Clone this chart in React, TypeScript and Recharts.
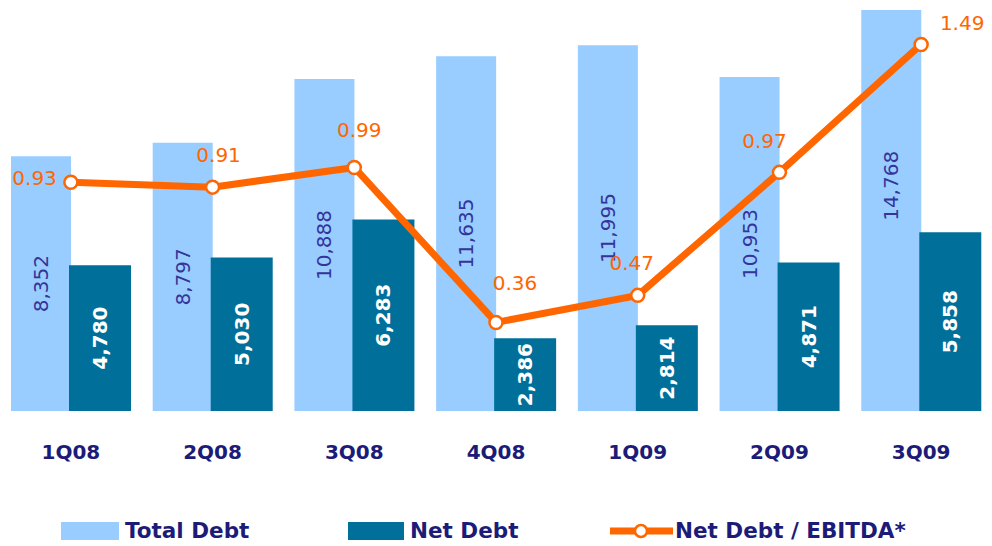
import {
  Bar,
  ComposedChart,
  LabelList,
  Legend,
  Line,
  XAxis,
  YAxis
} from "recharts";

const quarters = ["1Q08", "2Q08", "3Q08", "4Q08", "1Q09", "2Q09", "3Q09"];
const totalDebt = [8352, 8797, 10888, 11635, 11995, 10953, 14768];
const netDebt = [4780, 5030, 6283, 2386, 2814, 4871, 5858];
const netDebtToEbitda = [0.93, 0.91, 0.99, 0.36, 0.47, 0.97, 1.49];

const chartData = quarters.map((quarter, i) => ({
  quarter,
  totalDebt: totalDebt[i],
  netDebt: netDebt[i],
  ratio: netDebtToEbitda[i]
}));

// hand-tuned placement of the ratio labels around each dot
const ratioLabelOffsets: [number, number, "start" | "middle" | "end"][] = [
  [-14, -4, "end"],
  [6, -32, "middle"],
  [5, -37, "middle"],
  [19, -39, "middle"],
  [-6, -32, "middle"],
  [-15, -31, "middle"],
  [41, -21, "middle"]
];

const lightBlue = "#99CCFF";
const teal = "#00709A";
const orange = "#FF6600";
const navy = "#1C1C78";
const fontFamily = "'DejaVu Sans', Verdana, sans-serif";

const fmt = (v: number) => v.toLocaleString("en-US");

const verticalLabel = (color: string, weight: string) => (props: any) => {
  const { x, y, width, height, value } = props;
  const cx = Number(x) + Number(width) / 2;
  const cy = Number(y) + Number(height) / 2;
  return (
    <text
      x={cx}
      y={cy}
      transform={`rotate(-90 ${cx} ${cy})`}
      textAnchor="middle"
      dominantBaseline="central"
      fill={color}
      fontSize={20}
      fontWeight={weight}
      fontFamily={fontFamily}
    >
      {fmt(Number(value))}
    </text>
  );
};

const ratioLabel = (props: any) => {
  const { x, y, value, index } = props;
  const [dx, dy, anchor] = ratioLabelOffsets[index] ?? [0, -30, "middle"];
  return (
    <text
      x={Number(x) + dx}
      y={Number(y) + dy}
      textAnchor={anchor}
      dominantBaseline="central"
      fill={orange}
      fontSize={20}
      fontFamily={fontFamily}
    >
      {Number(value).toFixed(2)}
    </text>
  );
};

const QuarterTick = (props: any) => {
  const { x, y, payload } = props;
  return (
    <text
      x={x}
      y={Number(y) + 40}
      textAnchor="middle"
      fill={navy}
      fontSize={20}
      fontWeight="bold"
      fontFamily={fontFamily}
    >
      {payload.value}
    </text>
  );
};

const legendText = {
  color: navy,
  fontSize: 21.5,
  fontWeight: "bold" as const,
  fontFamily,
  marginLeft: 6
};

const renderLegend = () => (
  <div style={{ position: "relative", height: 34, width: 992 }}>
    <div style={{ position: "absolute", left: 61, top: 6, display: "flex", alignItems: "center" }}>
      <span style={{ display: "inline-block", width: 58, height: 18, background: lightBlue }} />
      <span style={legendText}>Total Debt</span>
    </div>
    <div style={{ position: "absolute", left: 348, top: 6, display: "flex", alignItems: "center" }}>
      <span style={{ display: "inline-block", width: 56, height: 18, background: teal }} />
      <span style={legendText}>Net Debt</span>
    </div>
    <div style={{ position: "absolute", left: 610, top: 6, display: "flex", alignItems: "center" }}>
      <svg width={63} height={18}>
        <line x1={1} y1={9} x2={62} y2={9} stroke={orange} strokeWidth={7} strokeLinecap="round" />
        <circle cx={31} cy={9} r={6} fill="#fff" stroke={orange} strokeWidth={2.5} />
      </svg>
      <span style={{ ...legendText, marginLeft: 2 }}>Net Debt / EBITDA*</span>
    </div>
  </div>
);

export default function App() {
  return (
    <div style={{ position: "absolute", left: 0, top: 0, width: 992, height: 546, background: "#fff" }}>
      <ComposedChart
        width={992}
        height={546}
        data={chartData}
        margin={{ top: 10, right: 0, left: 0, bottom: 0 }}
        barGap={-2}
      >
        <XAxis
          dataKey="quarter"
          axisLine={false}
          tickLine={false}
          height={101}
          tick={<QuarterTick />}
          interval={0}
        />
        <YAxis yAxisId="debt" hide domain={[0, 13150]} allowDataOverflow />
        <YAxis yAxisId="ratio" hide orientation="right" domain={[0, 1.63]} allowDataOverflow />
        <Legend verticalAlign="bottom" height={34} content={renderLegend} />
        <Bar
          yAxisId="debt"
          dataKey="totalDebt"
          name="Total Debt"
          fill={lightBlue}
          barSize={60}
          isAnimationActive={false}
        >
          <LabelList dataKey="totalDebt" content={verticalLabel("#34349A", "normal")} />
        </Bar>
        <Bar
          yAxisId="debt"
          dataKey="netDebt"
          name="Net Debt"
          fill={teal}
          barSize={62}
          isAnimationActive={false}
        >
          <LabelList dataKey="netDebt" content={verticalLabel("#ffffff", "bold")} />
        </Bar>
        <Line
          yAxisId="ratio"
          dataKey="ratio"
          name="Net Debt / EBITDA*"
          stroke={orange}
          strokeWidth={7}
          dot={{ r: 6.5, fill: "#ffffff", stroke: orange, strokeWidth: 2.5 }}
          isAnimationActive={false}
        >
          <LabelList dataKey="ratio" content={ratioLabel} />
        </Line>
      </ComposedChart>
    </div>
  );
}
